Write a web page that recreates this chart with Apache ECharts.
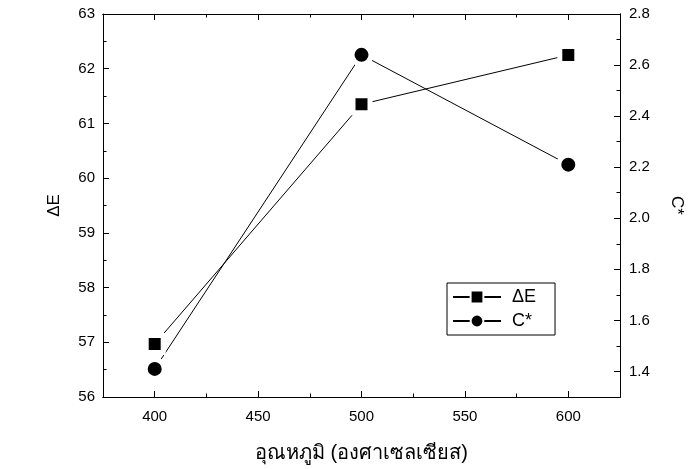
<!DOCTYPE html>
<html><head><meta charset="utf-8">
<script src="https://cdn.jsdelivr.net/npm/echarts@6/dist/echarts.min.js"></script>
<style>html,body{margin:0;padding:0;background:#fff}#c{width:693px;height:469px}</style>
</head><body><div id="c"></div>
<script>
const temps = [400, 500, 600];
const deltaE = [56.97, 61.35, 62.25];
const cStar = [1.41, 2.64, 2.21];
const xMajor = [400, 450, 500, 550, 600];
const xMinor = [375, 425, 475, 525, 575, 625];
const rightMajor = [1.4, 1.6, 1.8, 2.0, 2.2, 2.4, 2.6, 2.8];
const rightMinor = [1.3, 1.5, 1.7, 1.9, 2.1, 2.3, 2.5, 2.7];
const xTitle = 'อุณหภูมิ (องศาเซลเซียส)';
const leftTitle = 'ΔE';
const rightTitle = 'C*';
const FONT = 'Arial, "Liberation Sans", "Noto Sans", sans-serif';

const chart = echarts.init(document.getElementById('c'));
const BLACK = {color: '#000', width: 1};
function xAx(pos, ticks, len, labels, extra) {
  return Object.assign({
    type: 'value', min: 375, max: 625, position: pos,
    axisLine: {show: true, onZero: false, lineStyle: BLACK},
    axisTick: {show: true, inside: true, length: len, customValues: ticks, lineStyle: BLACK},
    splitLine: {show: false},
    axisLabel: labels ? {show: true, customValues: xMajor, color: '#000', fontSize: 15, fontFamily: FONT, margin: 12} : {show: false}
  }, extra || {});
}
function rAx(ticks, len, labels, extra) {
  return Object.assign({
    type: 'value', min: 1.3, max: 2.8, position: 'right',
    axisLine: {show: true, onZero: false, lineStyle: BLACK},
    axisTick: {show: true, inside: true, length: len, customValues: ticks, lineStyle: BLACK},
    splitLine: {show: false},
    axisLabel: labels ? {show: true, customValues: rightMajor, color: '#000', fontSize: 15, fontFamily: FONT, margin: 9,
      formatter: v => Number(v).toFixed(1)} : {show: false}
  }, extra || {});
}
chart.setOption({
  animation: false,
  backgroundColor: '#fff',
  grid: {left: 103, top: 14, right: 71, bottom: 72},
  legend: {
    left: 447, top: 283, orient: 'vertical',
    borderColor: '#000', borderWidth: 1, borderRadius: 0,
    padding: [5, 19, 5, 5], itemGap: 6, itemWidth: 48, itemHeight: 16,
    textStyle: {color: '#000', fontSize: 18, fontFamily: FONT, padding: [0, 0, 0, 6]},
    data: [{name: 'ΔE'}, {name: 'C*'}]
  },
  xAxis: [
    xAx('bottom', xMajor, 6, true, {
      name: xTitle, nameLocation: 'middle', nameGap: 46, nameMoveOverlap: false,
      nameTextStyle: {color: '#000', fontSize: 20, fontFamily: FONT}
    }),
    xAx('bottom', xMinor, 3.5, false),
    xAx('top', xMajor, 6, false),
    xAx('top', xMinor, 3.5, false)
  ],
  yAxis: [
    {
      type: 'value', min: 56, max: 63, interval: 1, position: 'left',
      axisLine: {show: true, onZero: false, lineStyle: BLACK},
      axisTick: {show: true, inside: true, length: 6, lineStyle: BLACK},
      minorTick: {show: true, splitNumber: 2, length: 3.5, lineStyle: BLACK},
      splitLine: {show: false},
      axisLabel: {color: '#000', fontSize: 15, fontFamily: FONT, margin: 8},
      name: leftTitle, nameLocation: 'middle', nameGap: 40, nameRotate: 90, nameMoveOverlap: false,
      nameTextStyle: {color: '#000', fontSize: 17, fontFamily: FONT}
    },
    rAx(rightMajor, 6, true, {
      name: rightTitle, nameLocation: 'middle', nameGap: 48, nameRotate: -90, nameMoveOverlap: false,
      nameTextStyle: {color: '#000', fontSize: 17, fontFamily: FONT}
    }),
    rAx(rightMinor, 3.5, false)
  ],
  series: [
    {
      name: 'ΔE', type: 'line', xAxisIndex: 0, yAxisIndex: 0,
      data: temps.map((t, i) => [t, deltaE[i]]),
      symbol: 'rect', symbolSize: 17, showAllSymbol: true,
      lineStyle: {color: '#000', width: 1},
      itemStyle: {color: '#000', borderColor: '#fff', borderWidth: 5}, z: 3
    },
    {
      name: 'C*', type: 'line', xAxisIndex: 0, yAxisIndex: 1,
      data: temps.map((t, i) => [t, cStar[i]]),
      symbol: 'circle', symbolSize: 19, showAllSymbol: true,
      lineStyle: {color: '#000', width: 1},
      itemStyle: {color: '#000', borderColor: '#fff', borderWidth: 5}, z: 3
    }
  ]
});
</script></body></html>
